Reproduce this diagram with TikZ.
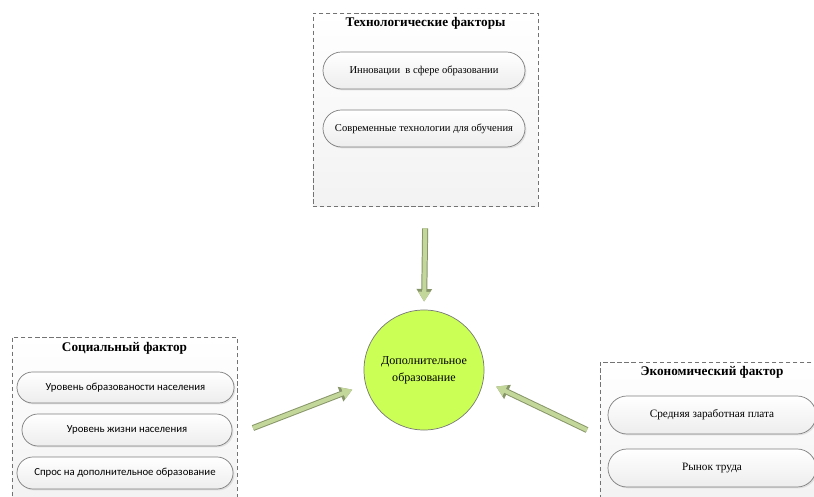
\documentclass[tikz,border=0pt]{standalone}
\usepackage{fontspec}
\setmainfont{Liberation Serif}
\newfontfamily\calibri{Carlito}
\usetikzlibrary{arrows.meta,shapes.misc,shadows}

\definecolor{dopfill}{RGB}{204,255,85}
\definecolor{doplin}{RGB}{120,120,120}
\definecolor{arrfill}{RGB}{196,215,155}
\definecolor{arrline}{RGB}{135,150,105}
\definecolor{boxline}{RGB}{115,115,115}
\definecolor{pilline}{RGB}{125,125,125}

\begin{document}
\begin{tikzpicture}[x=0.025cm, y=-0.025cm,
    factorbox/.style={draw=boxline, dash pattern=on 3pt off 2pt, line width=0.5pt,
      top color=white, bottom color=black!5, inner sep=0pt},
    boxtitle/.style={font=\fontsize{9.4}{12}\selectfont\bfseries, inner sep=0pt},
    pill/.style={rounded rectangle, draw=pilline, line width=0.5pt,
      top color=white, bottom color=black!7,
      drop shadow={opacity=0.18, shadow xshift=1pt, shadow yshift=-1pt},
      inner sep=0pt, font=\fontsize{7.5}{10}\selectfont},
    sanspill/.style={pill, font=\calibri\fontsize{7.65}{10}\selectfont},
    farrow/.style={draw=arrfill, line width=2.9pt,
      -{Triangle[width=8pt,length=7pt]},
      preaction={draw=arrline, line width=4.3pt, -{Triangle[width=10.5pt,length=9pt]}}}
  ]
    % page and clipping
    \clip (0,0) rectangle (814,497);
    \fill[white] (0,0) rectangle (814,497);

    % technological factors (top)
    \node[factorbox, minimum width=5.625cm, minimum height=4.825cm] (tech) at (425.5,109.5) {};
    \node[boxtitle] (techt) at (425.5,23) {Технологические факторы};
    \node[pill, minimum width=5.05cm, minimum height=0.925cm] (tech1) at (424,70.5) {Инновации\ \ в сфере образовании};
    \node[pill, minimum width=5.05cm, minimum height=0.925cm] (tech2) at (424,128.5) {Современные технологии для обучения};

    % social factor (left)
    \node[factorbox, minimum width=5.625cm, minimum height=4.2cm] (soc) at (124.5,421) {};
    \node[boxtitle] (soct) at (124.5,348) {Социальный фактор};
    \node[sanspill, minimum width=5.425cm, minimum height=0.775cm] (soc1) at (125.5,387.5) {Уровень образованости населения};
    \node[sanspill, minimum width=5.25cm, minimum height=0.8cm] (soc2) at (127,430) {Уровень жизни населения};
    \node[sanspill, minimum width=5.4cm, minimum height=0.8cm] (soc3) at (125,473) {Спрос на дополнительное образование};

    % economic factor (right)
    \node[factorbox, minimum width=5.55cm, minimum height=3.5cm] (econ) at (711,432) {};
    \node[boxtitle] (econt) at (712,372) {Экономический фактор};
    \node[pill, minimum width=5.2cm, minimum height=0.95cm, font=\fontsize{8}{10}\selectfont] (econ1) at (712,415) {Средняя заработная плата};
    \node[pill, minimum width=5.2cm, minimum height=0.95cm, font=\fontsize{8}{10}\selectfont] (econ2) at (712,468) {Рынок труда};

    % centre
    \node[circle, draw=doplin, line width=0.5pt, fill=dopfill, minimum size=3cm, align=center,
      font=\fontsize{8.6}{12}\selectfont] (dop) at (424,370) {Дополнительное\\образование};

    % influence arrows
    \coordinate (soctail) at (253,428);
    \coordinate (econtail) at (587,430);
    \draw[farrow, shorten <=0.55cm, shorten >=0.2cm] (tech.south) -- (dop.north);
    \draw[farrow, shorten >=0.35cm] (soctail) -- (dop.194);
    \draw[farrow, shorten >=0.35cm] (econtail) -- (dop.-10);
  \end{tikzpicture}
\end{document}
